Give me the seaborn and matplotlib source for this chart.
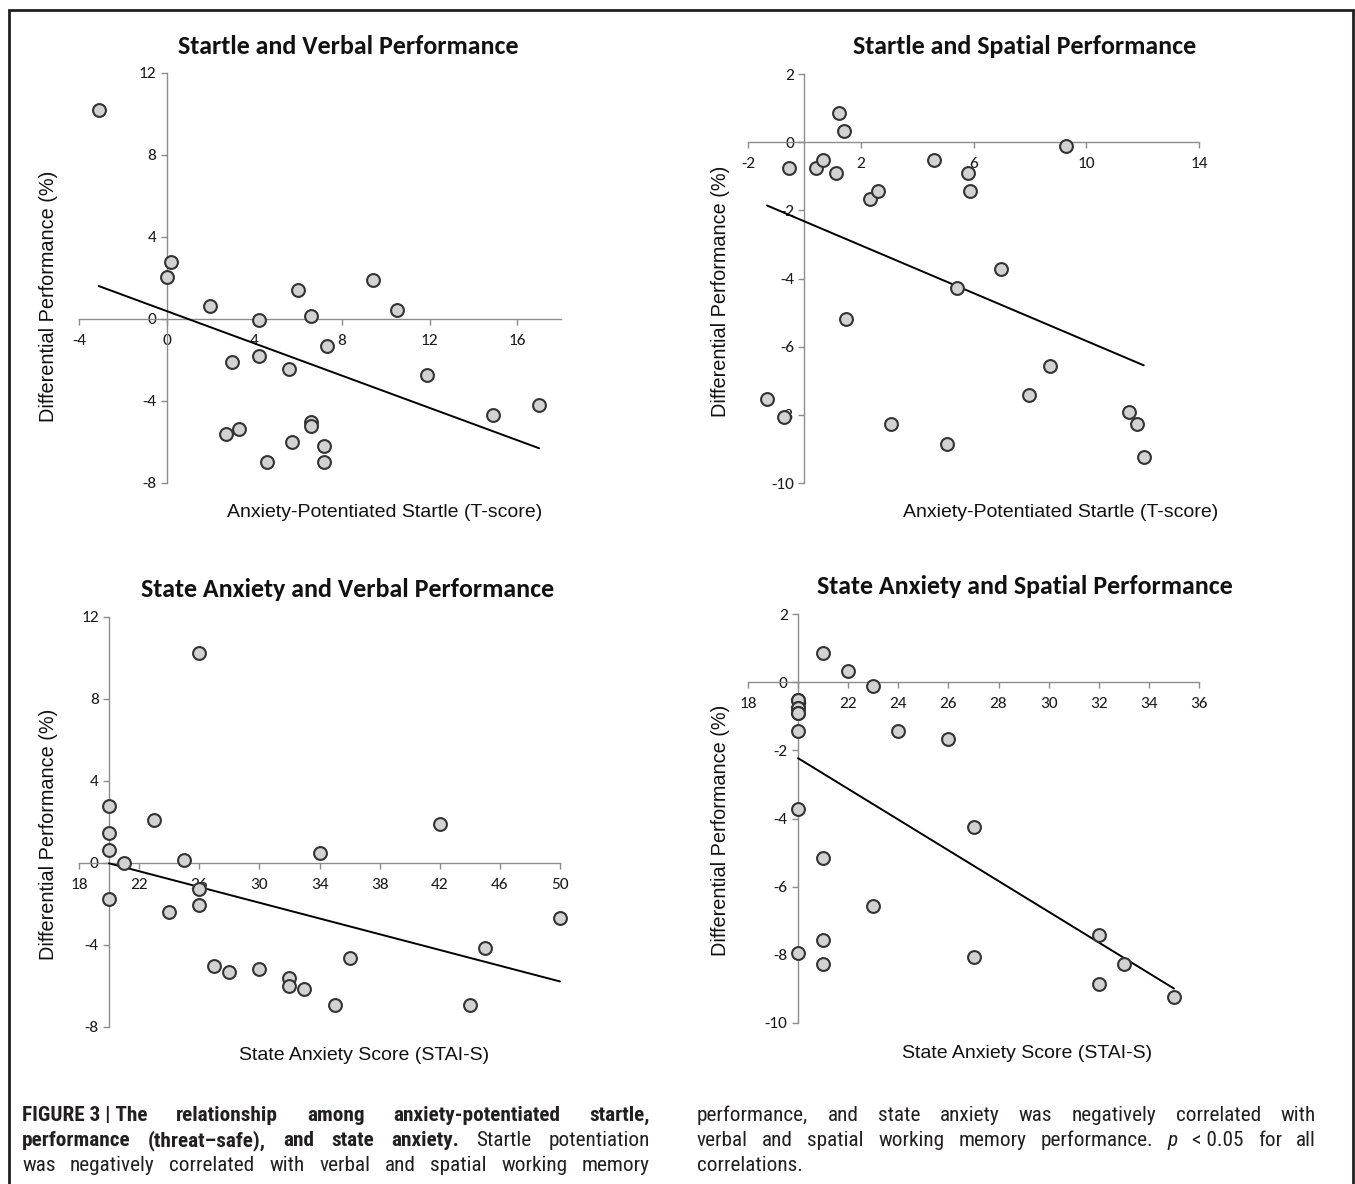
import matplotlib
matplotlib.use("Agg")
import matplotlib.pyplot as plt
import seaborn as sns
import numpy as np
import pandas as pd
from matplotlib import font_manager as fm
from matplotlib.lines import Line2D

# ---------------- data ----------------
startle_verbal_x = [-3.1, 0.2, 0.0, 2.0, 4.2, 6.0, 6.6, 9.4, 10.5, 7.3, 4.2, 3.0,
                    5.6, 11.9, 14.9, 17.0, 6.6, 6.6, 3.3, 2.7, 5.7, 7.2, 4.6, 7.2]
startle_verbal_y = [10.18, 2.76, 2.03, 0.62, -0.03, 1.40, 0.13, 1.89, 0.46, -1.33, -1.79, -2.11,
                    -2.44, -2.73, -4.67, -4.18, -5.04, -5.24, -5.37, -5.61, -6.02, -6.18, -6.98, -6.98]

startle_spatial_x = [-0.53, 0.41, 0.67, 1.12, 1.23, 1.42, 2.32, 2.60, 4.59, 5.81, 5.87, 9.29,
                     6.96, 5.40, 1.46, 8.71, 7.96, -1.33, -0.71, 3.08, 5.07, 11.51, 11.79, 12.04]
startle_spatial_y = [-0.77, -0.77, -0.52, -0.91, 0.86, 0.33, -1.68, -1.43, -0.52, -0.91, -1.43, -0.10,
                     -3.73, -4.28, -5.18, -6.56, -7.41, -7.54, -8.07, -8.28, -8.86, -7.93, -8.28, -9.24]

stai_verbal_x = [20, 20, 20, 21, 20, 23, 25, 26, 26, 26, 24, 34,
                 42, 50, 45, 36, 27, 28, 30, 32, 32, 33, 35, 44]
stai_verbal_y = [2.80, 1.45, 0.65, 0.02, -1.76, 2.08, 0.16, 10.24, -1.29, -2.07, -2.39, 0.49,
                 1.92, -2.70, -4.14, -4.61, -5.03, -5.33, -5.18, -5.59, -5.99, -6.16, -6.94, -6.94]

stai_spatial_x = [21, 22, 23, 20, 20, 20, 20, 20, 20, 20, 24, 26,
                  20, 27, 21, 23, 21, 21, 20, 27, 32, 32, 33, 35]
stai_spatial_y = [0.85, 0.34, -0.10, -0.52, -0.52, -0.77, -0.77, -0.91, -0.91, -1.43, -1.43, -1.67,
                  -3.72, -4.26, -5.17, -6.56, -7.57, -8.28, -7.95, -8.05, -7.41, -8.86, -8.28, -9.24]

titles = ["Startle and Verbal Performance", "Startle and Spatial Performance",
          "State Anxiety and Verbal Performance", "State Anxiety and Spatial Performance"]
xlabels = ["Anxiety-Potentiated Startle (T-score)", "Anxiety-Potentiated Startle (T-score)",
           "State Anxiety Score (STAI-S)", "State Anxiety Score (STAI-S)"]
ylabel = "Differential Performance (%)"

xticks_1 = [-4, 0, 4, 8, 12, 16]
yticks_1 = [-8, -4, 0, 4, 8, 12]
xticks_2 = [-2, 2, 6, 10, 14]
yticks_2 = [-10, -8, -6, -4, -2, 0, 2]
xticks_3 = [18, 22, 26, 30, 34, 38, 42, 46, 50]
yticks_3 = [-8, -4, 0, 4, 8, 12]
xticks_4 = [18, 20, 22, 24, 26, 28, 30, 32, 34, 36]
yticks_4 = [-10, -8, -6, -4, -2, 0, 2]

# ---------------- style ----------------
sns.set_theme(style="white")
avail = {f.name for f in fm.fontManager.ttflist}
def pick(*names):
    for n in names:
        if n in avail:
            return n
    return "DejaVu Sans"
CAL = pick("Carlito", "Lato", "Open Sans")
ARIAL = pick("Liberation Sans", "Arial", "DejaVu Sans")
NARROW = pick("Liberation Sans Narrow", "Roboto Condensed", "Liberation Sans")
plt.rcParams['font.family'] = [CAL, 'DejaVu Sans']
plt.rcParams['axes.unicode_minus'] = False

W, H = 1355, 1184
fig = plt.figure(figsize=(W / 100, H / 100), dpi=100)

def fx(x):
    return x / W
def fy(y):
    return 1 - y / H

def ax_at(l, t, r, b):
    return fig.add_axes([l / W, 1 - b / H, (r - l) / W, (b - t) / H])

AXC = '#8c8c8c'
panels = [
    dict(box=(79, 73, 561, 483), x=startle_verbal_x, y=startle_verbal_y, xlim=(-4, 18), ylim=(-8, 12),
         xt=xticks_1, yt=yticks_1, cross=0, title=(348, 47), xl=(385, 513), yl=(49, 296)),
    dict(box=(748, 74, 1199, 483), x=startle_spatial_x, y=startle_spatial_y, xlim=(-2, 14), ylim=(-10, 2),
         xt=xticks_2, yt=yticks_2, cross=0, title=(1025, 47), xl=(1061, 513), yl=(721, 291)),
    dict(box=(79, 617, 560, 1027), x=stai_verbal_x, y=stai_verbal_y, xlim=(18, 50), ylim=(-8, 12),
         xt=xticks_3, yt=yticks_3, cross=20, title=(348, 590), xl=(364, 1055), yl=(49, 834)),
    dict(box=(748, 614, 1199, 1023), x=stai_spatial_x, y=stai_spatial_y, xlim=(18, 36), ylim=(-10, 2),
         xt=xticks_4, yt=yticks_4, cross=20, title=(1025, 586), xl=(1027, 1053), yl=(721, 830)),
]

for i, p in enumerate(panels):
    ax = ax_at(*p['box'])
    df = pd.DataFrame({'x': p['x'], 'y': p['y']})
    sns.regplot(data=df, x='x', y='y', ax=ax, ci=None, truncate=True,
                scatter_kws=dict(s=85, facecolor='#d2d2d2', edgecolor='#333333',
                                 linewidths=1.5, alpha=1, zorder=4, clip_on=False),
                line_kws=dict(color='black', lw=1.4, zorder=3, clip_on=False))
    ax.set_xlim(*p['xlim'])
    ax.set_ylim(*p['ylim'])
    ax.set_xticks(p['xt'])
    ax.set_yticks(p['yt'])
    ax.set_xticklabels([str(v) for v in p['xt']])
    ax.set_yticklabels([str(v) for v in p['yt']])
    ax.set_xlabel('')
    ax.set_ylabel('')
    ax.set_facecolor('none')
    for s in ['top', 'right']:
        ax.spines[s].set_visible(False)
    ax.spines['left'].set_position(('data', p['cross']))
    ax.spines['bottom'].set_position(('data', 0))
    for s in ['left', 'bottom']:
        ax.spines[s].set_color(AXC)
        ax.spines[s].set_linewidth(1.0)
        ax.spines[s].set_zorder(2)
    ax.tick_params(axis='both', which='major', bottom=True, left=True, direction='out',
                   length=4.5, width=1.0, color=AXC, labelsize=12.5, labelcolor='#1a1a1a')
    ax.tick_params(axis='x', pad=6)
    ax.tick_params(axis='y', pad=3)
    ax.grid(False)

    fig.text(fx(p['title'][0]), fy(p['title'][1]), titles[i], ha='center', va='center',
             fontsize=18.7, fontweight='bold', color='#111111')
    fig.text(fx(p['xl'][0]), fy(p['xl'][1]), xlabels[i], ha='center', va='center',
             fontsize=14, family=[ARIAL, 'DejaVu Sans'], color='#111111')
    fig.text(fx(p['yl'][0]), fy(p['yl'][1]), ylabel, ha='center', va='center', rotation=90,
             fontsize=14.3, family=[ARIAL, 'DejaVu Sans'], color='#111111')

# ---------------- frame ----------------
fig.add_artist(Line2D([fx(9), fx(9), fx(1352.5), fx(1352.5)], [0, fy(9.5), fy(9.5), 0],
                      transform=fig.transFigure, color='#231f20', lw=2.0,
                      solid_joinstyle='miter'))

# ---------------- caption (justified) ----------------
renderer = fig.canvas.get_renderer()
CAP = dict(fontsize=15.3, family=[NARROW, 'DejaVu Sans'], color='#231f20', va='baseline', ha='left')
B = dict(fontweight='bold')
R = dict()
I = dict(style='italic')

cap_left = [
    [("FIGURE 3 | The", B), ("relationship", B), ("among", B), ("anxiety-potentiated", B), ("startle,", B)],
    [("performance", B), ("(threat–safe),", B), ("and", B), ("state", B), ("anxiety.", B),
     ("Startle", R), ("potentiation", R)],
    [("was", R), ("negatively", R), ("correlated", R), ("with", R), ("verbal", R), ("and", R),
     ("spatial", R), ("working", R), ("memory", R)],
]
cap_right = [
    [("performance,", R), ("and", R), ("state", R), ("anxiety", R), ("was", R), ("negatively", R),
     ("correlated", R), ("with", R)],
    [("verbal", R), ("and", R), ("spatial", R), ("working", R), ("memory", R), ("performance.", R),
     ("p", I), ("< 0.05", R), ("for", R), ("all", R)],
    [("correlations.", R)],
]

def place_line(tokens, x0, x1, ybase, justify=True):
    arts, widths = [], []
    for txt, props in tokens:
        kw = dict(CAP)
        kw.update(props)
        t = fig.text(0, fy(ybase), txt, **kw)
        widths.append(t.get_window_extent(renderer).width)
        arts.append(t)
    n = len(arts)
    if justify and n > 1:
        gap = (x1 - x0 - sum(widths)) / (n - 1)
    else:
        gap = 5
    x = x0
    for t, w in zip(arts, widths):
        t.set_x(fx(x))
        x += w + gap

bases = [1121, 1146, 1171]
for k, line in enumerate(cap_left):
    place_line(line, 22, 650, bases[k], True)
for k, line in enumerate(cap_right):
    place_line(line, 697, 1316, bases[k], k < 2)

fig.savefig("out.png", dpi=100)
